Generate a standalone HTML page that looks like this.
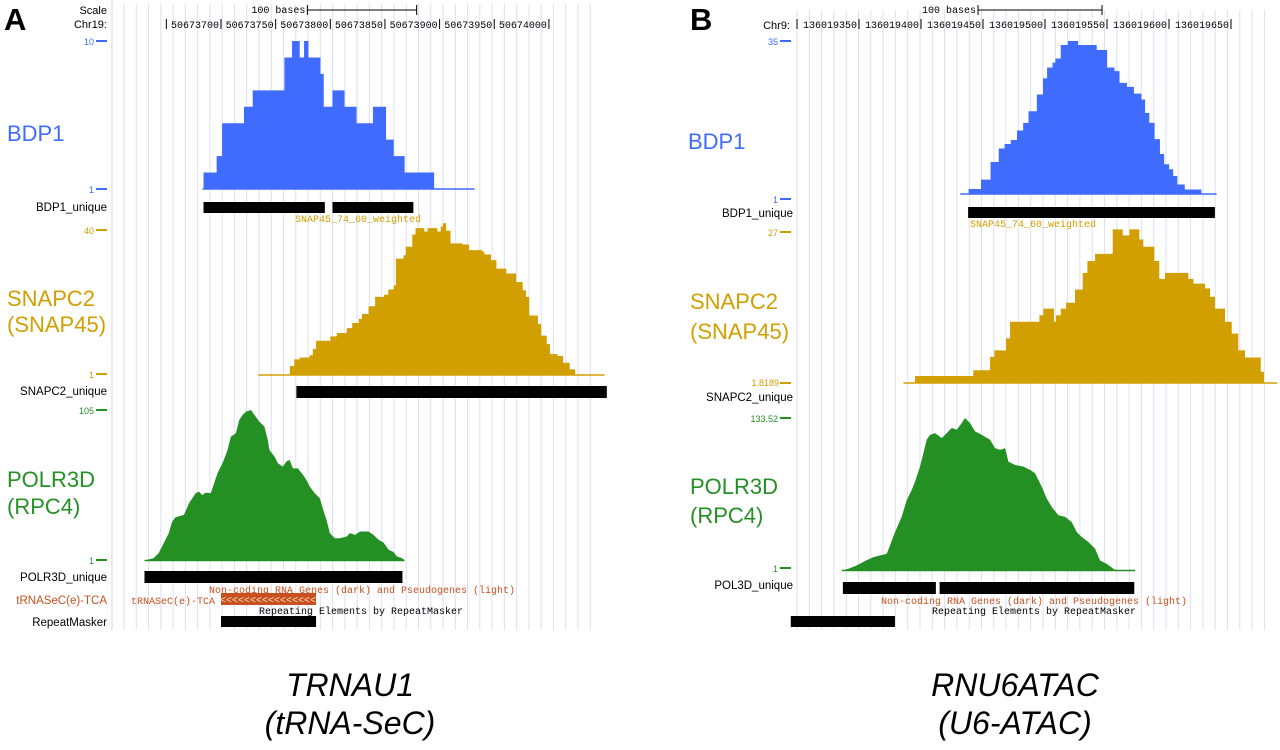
<!DOCTYPE html>
<html><head><meta charset="utf-8"><style>
html,body{margin:0;padding:0;background:#fff;width:1280px;height:750px;overflow:hidden}
svg{display:block}
.m{font-family:"Liberation Mono",monospace;font-size:10px}
.s{font-family:"Liberation Sans",sans-serif}
</style></head><body>
<svg id="fig" width="1280" height="750" xmlns="http://www.w3.org/2000/svg">
<g id="grid"></g>
<line x1="112" y1="0" x2="112" y2="630" stroke="#f7c8c8" stroke-width="1"/>
<g id="marks"></g>
<g class="s">
<text x="4" y="30" font-size="31" font-weight="bold">A</text>
<text x="107" y="14" font-size="11" text-anchor="end">Scale</text>
<text x="107" y="28" font-size="11" text-anchor="end">Chr19:</text>
<text x="94" y="45" font-size="9" fill="#3f6bff" text-anchor="end">10</text>
<line x1="96" y1="41" x2="107" y2="41" stroke="#3f6bff" stroke-width="2"/>
<text x="7" y="141" font-size="22" fill="#3f6bff">BDP1</text>
<text x="94" y="193" font-size="9" fill="#3f6bff" text-anchor="end">1</text>
<line x1="96" y1="189" x2="107" y2="189" stroke="#3f6bff" stroke-width="2"/>
<text x="107" y="211" font-size="11.5" text-anchor="end">BDP1_unique</text>
<text x="94" y="234" font-size="9" fill="#d29f00" text-anchor="end">40</text>
<line x1="96" y1="230" x2="107" y2="230" stroke="#d29f00" stroke-width="2"/>
<text x="7" y="306" font-size="22" fill="#d29f00">SNAPC2</text>
<text x="7" y="332" font-size="22" fill="#d29f00">(SNAP45)</text>
<text x="94" y="378" font-size="9" fill="#d29f00" text-anchor="end">1</text>
<line x1="96" y1="374" x2="107" y2="374" stroke="#d29f00" stroke-width="2"/>
<text x="107" y="395" font-size="11.5" text-anchor="end">SNAPC2_unique</text>
<text x="94" y="414" font-size="9" fill="#249024" text-anchor="end">105</text>
<line x1="96" y1="410" x2="107" y2="410" stroke="#249024" stroke-width="2"/>
<text x="7" y="487" font-size="22" fill="#249024">POLR3D</text>
<text x="7" y="514" font-size="22" fill="#249024">(RPC4)</text>
<text x="94" y="564" font-size="9" fill="#249024" text-anchor="end">1</text>
<line x1="96" y1="560" x2="107" y2="560" stroke="#249024" stroke-width="2"/>
<text x="107" y="581" font-size="11.5" text-anchor="end">POLR3D_unique</text>
<text x="107" y="604" font-size="11.5" fill="#c8501e" text-anchor="end">tRNASeC(e)-TCA</text>
<text x="107" y="626" font-size="11.5" text-anchor="end">RepeatMasker</text>
</g>
<g class="s">
<text x="690" y="30" font-size="31" font-weight="bold">B</text>
<text x="790" y="29" font-size="11" text-anchor="end">Chr9:</text>
<text x="778" y="45" font-size="9" fill="#3f6bff" text-anchor="end">35</text>
<line x1="780" y1="41" x2="791" y2="41" stroke="#3f6bff" stroke-width="2"/>
<text x="688" y="149" font-size="22" fill="#3f6bff">BDP1</text>
<text x="778" y="203" font-size="9" fill="#3f6bff" text-anchor="end">1</text>
<line x1="780" y1="199" x2="791" y2="199" stroke="#3f6bff" stroke-width="2"/>
<text x="793" y="217" font-size="11.5" text-anchor="end">BDP1_unique</text>
<text x="778" y="236" font-size="9" fill="#d29f00" text-anchor="end">27</text>
<line x1="780" y1="232" x2="791" y2="232" stroke="#d29f00" stroke-width="2"/>
<text x="690" y="309" font-size="22" fill="#d29f00">SNAPC2</text>
<text x="690" y="339" font-size="22" fill="#d29f00">(SNAP45)</text>
<text x="779" y="386" font-size="9" fill="#d29f00" text-anchor="end">1.8189</text>
<line x1="780" y1="383" x2="791" y2="383" stroke="#d29f00" stroke-width="2"/>
<text x="793" y="401" font-size="11.5" text-anchor="end">SNAPC2_unique</text>
<text x="778" y="422" font-size="9" fill="#249024" text-anchor="end">133.52</text>
<line x1="780" y1="418" x2="791" y2="418" stroke="#249024" stroke-width="2"/>
<text x="690" y="494" font-size="22" fill="#249024">POLR3D</text>
<text x="690" y="523" font-size="22" fill="#249024">(RPC4)</text>
<text x="778" y="572" font-size="9" fill="#249024" text-anchor="end">1</text>
<line x1="780" y1="568" x2="791" y2="568" stroke="#249024" stroke-width="2"/>
<text x="793" y="589" font-size="11.5" text-anchor="end">POL3D_unique</text>
</g>
<g class="s" font-style="italic" font-size="32" text-anchor="middle">
<text x="350" y="696">TRNAU1</text>
<text x="350" y="734">(tRNA-SeC)</text>
<text x="1015" y="696">RNU6ATAC</text>
<text x="1015" y="734">(U6-ATAC)</text>
</g>
</svg>
<script>
// ---- data (base offsets relative to first labelled tick) ----
const ticksA = ["50673700","50673750","50673800","50673850","50673900","50673950","50674000"];
const ticksB = ["136019350","136019400","136019450","136019500","136019550","136019600","136019650"];
const bdp1A_edges = [-16,-4,1,21,29,58,65,72,76,80,91,94,102,113,124,139,151,158,168,195,232];
const bdp1A_vals = [2,3,5,6,7,9,10,9,10,9,8,6,7,6,5,6,4,3,2,1];
const snapA_edges = [34,63,67,72,81,84,87,100,106,115,120,126,129,135,141,149,153,158,160,167,169,175,178,186,189,198,201,203,206,210,221,227,239,241,247,252,261,270,276,279,282,290,293,298,301,308,313,319,324,351];
const snapA_vals = [1,3.4,5.2,5.7,6.3,8.0,10.2,11.4,12.3,13.6,15.0,16.1,17.4,19.5,22.0,22.6,24.0,25.1,32.3,33.2,35.5,38.8,40.5,39.6,40.5,39.6,40.9,41.8,39.8,36.4,36.1,34.6,34.2,33.4,31.9,29.6,28.3,26.0,23.8,22.0,17.0,14.7,11.6,9.3,6.6,6.1,4.3,2.5,1];
const polA_pos = [-69.9,-61.6,-57.0,-52.4,-47.8,-44.7,-41.6,-33.9,-29.3,-23.2,-20.1,-17.1,-14.0,-9.4,-6.3,-3.2,1.4,6.0,9.0,13.6,16.7,19.8,22.9,27.5,30.5,35.1,39.7,42.8,44.3,49.0,52.0,56.6,59.7,62.8,65.8,70.4,75.1,78.1,81.2,85.8,90.4,93.5,96.5,99.6,104.2,108.8,115.0,118.0,122.6,127.2,134.9,139.5,144.1,148.7,153.3,158.0,161.0,165.6,168.1];
const polA_vals = [1,2.6,6.1,13.0,19.9,27.9,30.9,32.5,40.6,47.5,48.6,46.3,47.9,47.5,54.4,61.3,68.2,77.4,86.6,88.9,98.1,101.6,103.9,105.0,101.6,97.0,93.5,84.3,77.4,72.8,68.2,65.9,69.3,70.5,64.7,64.7,60.1,56.7,52.1,47.5,44.0,36.0,29.1,19.9,16.4,16.4,17.6,19.9,18.7,21.0,21.0,18.7,15.3,13.4,8.4,6.8,3.8,2.6,1];
const bdp1B_edges = [81.7,88.4,98.4,106.1,112.7,117.4,122.4,127.4,132.4,136.7,143.4,148.4,151.7,156.1,158.4,162.7,168.4,176.7,191.7,200.1,206.1,210.1,216.1,221.7,227.7,230.7,234.1,238.4,242.7,246.1,250.1,253.4,256.7,262.7,276.1,288.4];
const bdp1B_vals = [1,2.1,4.2,8.1,11.1,12.1,13.0,15.1,16.8,19.4,23.1,26.7,29.1,30.2,31.1,34.1,35,34.1,33.0,29.1,28.3,25.7,24.8,23.3,22.0,19.0,16.8,13.2,9.9,7.6,6.5,5.0,3.1,2.0,1];
const snapB_edges = [35.8,45.2,92.2,105.7,109.2,118.6,121.8,145.5,148.7,157.3,158.9,162.7,167.0,174.2,180.4,184.2,190.4,204.6,212.7,218.1,226.1,229.3,238.2,242.2,246.8,265.6,269.7,279.1,283.1,287.1,295.2,300.6,305.9,311.3,324.0,326.6,337.4];
const snapB_vals = [1.82,3.0,3.95,6.2,7.3,9.3,12.1,13.2,14.3,12.1,13.2,14.3,15.3,17.5,20.3,22.3,23.5,27.6,26.6,27.6,25.9,24.7,22.3,19.3,20.3,19.3,18.5,17.7,16.3,14.3,12.1,10.1,7.3,6.1,3.7,1.82];
const polB_pos = [-14,-8.6,-1.8,5.7,11.6,22.4,25,29.1,34.4,38.5,42.5,45.2,49.2,51.9,54.6,57.3,61.3,66.7,70.7,74.8,78.8,82.8,85.5,89.6,93.6,99,105.7,109.7,113.8,117.8,120.5,125.9,132.6,138,142,147.4,151.4,155.4,160.8,166.2,171.5,175.6,179.6,185,190.4,194.4,199.8,205.1,207.3,222.6];
const polB_vals = [1,2.5,5.4,9.7,12.6,15.6,22.8,34.5,47.6,62.2,70.9,78.2,91.3,102.9,114.6,118.9,120.4,116.0,120.4,124.8,123.3,129.1,133.5,129.1,121.9,118.9,114.6,107.3,105.8,107.3,95.6,92.7,91.3,88.4,85.5,73.8,63.6,56.3,49.0,47.6,43.2,34.5,30.1,25.8,19.9,9.7,6.8,2.5,1,1];
const uniqA_bdp = [[-16,95],[102,176]];
const uniqA_snap = [[69,353]];
const uniqA_pol = [[-70,166]];
const uniqB_bdp = [[88,287]];
const uniqB_pol = [[-13,62],[65,222]];

// ---- scales ----
const NS="http://www.w3.org/2000/svg";
const xA = o => 221 + o*1.093;
const xB = o => 859 + o*1.24;
const yS = (base,top,lo,hi) => v => base - (v-lo)/(hi-lo)*(base-top);
const grid=document.getElementById('grid'), marks=document.getElementById('marks'), svg=document.getElementById('fig');
function mk(tag,attrs,parent){const e=document.createElementNS(NS,tag);for(const k in attrs)e.setAttribute(k,attrs[k]);(parent||marks).appendChild(e);return e;}

for(let x=124;x<=601;x+=12.27){const l=mk('line',{x1:x,y1:4,x2:x,y2:630,stroke:'#dedef6','stroke-width':1},grid);

}
for(let x=797;x<=1268;x+=12.3){const l=mk('line',{x1:x,y1:10,x2:x,y2:630,stroke:'#dedef6','stroke-width':1},grid);

}

function ruler(ticks,xf,y,pre){
  const t0=xf(-50); const b0=mk('line',{x1:t0,y1:y-9,x2:t0,y2:y+1,stroke:'#000'});
  
  
  ticks.forEach((lab,i)=>{const x=xf(i*50);
    const l=mk('line',{x1:x,y1:y-9,x2:x,y2:y+1,stroke:'#000'});
    
    
    const t=mk('text',{x:x-2,y:y,'text-anchor':'end','class':'m'});t.textContent=lab;
    
    });
}
ruler(ticksA,xA,28);ruler(ticksB,xB,28);
function scalebar(x1,x2){const g=mk('g',{});
  
  
  mk('line',{x1:x1,y1:10,x2:x2,y2:10,stroke:'#000'},g);mk('line',{x1:x1,y1:5,x2:x1,y2:15,stroke:'#000'},g);mk('line',{x1:x2,y1:5,x2:x2,y2:15,stroke:'#000'},g);
  const t=mk('text',{x:x1-2,y:13,'text-anchor':'end','class':'m'},g);t.textContent='100 bases';}
scalebar(xA(79),xA(179));scalebar(xB(96),xB(196));

function steps(edges,vals,xf,yf,base,color,name,ext){
  let d=`M${xf(edges[0])},${base}`;
  vals.forEach((v,i)=>{d+=`L${xf(edges[i])},${yf(v)}L${xf(edges[i+1])},${yf(v)}`;});
  d+=`L${xf(edges[edges.length-1])},${base}Z`;
  const p=mk('path',{d:d,fill:color});
  
  
  if(ext){const l=mk('line',{x1:xf(ext[0]),y1:base,x2:xf(ext[1]),y2:base,stroke:color,'stroke-width':1.5});
  
  }
}
function area(pos,vals,xf,yf,base,color,name,ext){
  let d=`M${xf(pos[0])},${base}`;
  pos.forEach((o,i)=>{d+=`L${xf(o)},${yf(vals[i])}`;});
  d+=`L${xf(pos[pos.length-1])},${base}Z`;
  const p=mk('path',{d:d,fill:color});
  
  
  if(ext){const l=mk('line',{x1:xf(ext[0]),y1:base,x2:xf(ext[1]),y2:base,stroke:color,'stroke-width':1.5});
  
  }
}
function bars(list,xf,y,h,name){list.forEach(b=>{const r=mk('rect',{x:xf(b[0]),y:y,width:xf(b[1])-xf(b[0]),height:h,fill:'#000'});
  
  });}

const BLUE='#3f6bff',GOLD='#d29f00',GREEN='#249024';
steps(bdp1A_edges,bdp1A_vals,xA,yS(189,41,1,10),189,BLUE,'bdp1-signal-a',[-17,232]);
steps(snapA_edges,snapA_vals,xA,yS(375,230,1,40),375,GOLD,'snapc2-signal-a',[34,351]);
area(polA_pos,polA_vals,xA,yS(560.5,410,1,105),560.5,GREEN,'polr3d-signal-a',[-70,168]);
steps(bdp1B_edges,bdp1B_vals,xB,yS(194,41,1,35),194,BLUE,'bdp1-signal-b',[81.7,288.4]);
steps(snapB_edges,snapB_vals,xB,yS(383,233,1.8189,27),383,GOLD,'snapc2-signal-b',[35.8,337.4]);
area(polB_pos,polB_vals,xB,yS(570.5,418,1,133.52),570.5,GREEN,'polr3d-signal-b',[-14,222.6]);

bars(uniqA_bdp,xA,202,11,'bdp1-unique-bar-a');
bars(uniqA_snap,xA,386,12,'snapc2-unique-bar-a');
bars(uniqA_pol,xA,571,12,'polr3d-unique-bar-a');
bars(uniqB_bdp,xB,207,11,'bdp1-unique-bar-b');
bars(uniqB_pol,xB,582,12,'pol3d-unique-bar-b');

function txt(x,y,s,fill,anchor,name){const t=mk('text',{x:x,y:y,fill:fill,'text-anchor':anchor,'class':'m'});t.textContent=s;
  
  return t;}
txt(295,222,'SNAP45_74_60_weighted',GOLD,'start','snap45-track-title-a');
txt(970,227,'SNAP45_74_60_weighted',GOLD,'start','snap45-track-title-b');
txt(362,593,'Non-coding RNA Genes (dark) and Pseudogenes (light)','#c8501e','middle','ncrna-track-title-a');
txt(131,604,'tRNASeC(e)-TCA','#c8501e','start','trna-feature-label-a');
const tb=mk('rect',{x:221,y:593,width:95,height:12,fill:'#c8501e'});


txt(268,603,'<<<<<<<<<<<<<<<<','#ffe0c0','middle','trna-strand-arrows');
txt(361,614,'Repeating Elements by RepeatMasker','#000','middle','repeatmasker-track-title-a');
bars([[0,87]],xA,616,11,'repeatmasker-bar-a');
txt(1034,604,'Non-coding RNA Genes (dark) and Pseudogenes (light)','#c8501e','middle','ncrna-track-title-b');
txt(1034,614,'Repeating Elements by RepeatMasker','#000','middle','repeatmasker-track-title-b');
bars([[-55,29]],xB,616,11,'repeatmasker-bar-b');
</script>
</body></html>
